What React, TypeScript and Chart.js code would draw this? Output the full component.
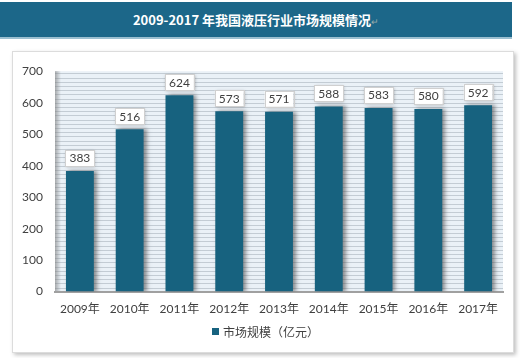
import React, { useEffect, useRef } from "react";
import { Chart, registerables } from "chart.js";

Chart.register(...registerables);

const categories = ["2009年", "2010年", "2011年", "2012年", "2013年", "2014年", "2015年", "2016年", "2017年"];
const values = [383, 516, 624, 573, 571, 588, 583, 580, 592];
const seriesName = "市场规模（亿元）";
const titleText = "2009-2017 年我国液压行业市场规模情况";

const FONT = "Lato, 'Noto Sans CJK SC', sans-serif";
const BAR_COLOR = "#17627f";

const bgPlugin = {
  id: "plotBg",
  beforeDraw(chart: any) {
    const { ctx, chartArea: a } = chart;
    ctx.save();
    ctx.fillStyle = "#eaf1f7";
    ctx.fillRect(a.left, a.top, a.right - a.left, a.bottom - a.top);
    ctx.strokeStyle = "#c3ccd4";
    ctx.lineWidth = 1;
    for (let y = a.bottom - 4; y > a.top; y -= 4.2) {
      ctx.beginPath();
      ctx.moveTo(a.left, Math.round(y) + 0.5);
      ctx.lineTo(a.right, Math.round(y) + 0.5);
      ctx.stroke();
    }
    const g = ctx.createLinearGradient(a.left, 0, a.left + 6, 0);
    g.addColorStop(0, "rgba(120,120,120,0.6)");
    g.addColorStop(1, "rgba(120,120,120,0)");
    ctx.fillStyle = g;
    ctx.fillRect(a.left, a.top, 6, a.bottom - a.top);
    ctx.restore();
  },
  beforeDatasetsDraw(chart: any) {
    const { ctx } = chart;
    ctx.save();
    ctx.shadowColor = "rgba(60,60,60,0.55)";
    ctx.shadowBlur = 4;
    ctx.shadowOffsetX = 3;
    ctx.shadowOffsetY = 0;
  },
  afterDatasetsDraw(chart: any) {
    const { ctx } = chart;
    ctx.restore();
    const meta = chart.getDatasetMeta(0);
    ctx.save();
    ctx.font = "12px " + FONT;
    ctx.textAlign = "center";
    ctx.textBaseline = "middle";
    meta.data.forEach((bar: any, i: number) => {
      const txt = String(chart.data.datasets[0].data[i]);
      const w = ctx.measureText(txt).width + 8;
      const h = 16;
      const x = bar.x - w / 2;
      const y = bar.y - 5 - h;
      ctx.shadowColor = "rgba(80,80,80,0.5)";
      ctx.shadowBlur = 3;
      ctx.shadowOffsetX = 1;
      ctx.shadowOffsetY = 1;
      ctx.fillStyle = "#ffffff";
      ctx.fillRect(x, y, w, h);
      ctx.shadowColor = "transparent";
      ctx.strokeStyle = "#d0d0d0";
      ctx.lineWidth = 1;
      ctx.strokeRect(Math.round(x) + 0.5, Math.round(y) + 0.5, Math.round(w), h);
      ctx.fillStyle = "#404040";
      ctx.fillText(txt, bar.x, y + h / 2 + 0.5);
    });
    ctx.restore();
  },
};

export default function App() {
  const ref = useRef<HTMLCanvasElement>(null);
  useEffect(() => {
    document.body.style.margin = "0";
    const chart = new Chart(ref.current!, {
      type: "bar",
      data: {
        labels: categories,
        datasets: [
          {
            label: seriesName,
            data: values,
            backgroundColor: BAR_COLOR,
            borderWidth: 0,
            barPercentage: 0.56,
            categoryPercentage: 1,
          },
        ],
      },
      options: {
        animation: false,
        responsive: false,
        layout: { padding: { top: 6, right: 10, bottom: 26, left: 0 } },
        scales: {
          x: {
            grid: { display: false, drawTicks: false },
            border: { display: true, color: "#a0a0a0", width: 2 },
            ticks: { color: "#404040", font: { size: 12, family: FONT }, padding: 10 },
          },
          y: {
            min: 0,
            max: 700,
            grid: { display: false, drawTicks: false },
            border: { display: false },
            ticks: { stepSize: 100, color: "#404040", font: { size: 12, family: FONT }, padding: 12 },
            afterFit(scale: any) {
              scale.width = 42;
            },
          },
        },
        plugins: {
          legend: { display: false },
          tooltip: { enabled: false },
        },
      },
      plugins: [bgPlugin],
    });
    return () => chart.destroy();
  }, []);

  return (
    <div style={{ position: "relative", width: 520, height: 358, background: "#fff", overflow: "hidden" }}>
      <div
        style={{
          position: "absolute",
          left: 0,
          top: 2,
          width: 512,
          height: 35,
          background: "#1c6789",
          borderBottom: "2px solid #9bbfd0",
          color: "#fff",
          fontFamily: "'Noto Sans CJK SC', sans-serif",
          fontWeight: 700,
          fontSize: 13,
          lineHeight: "35px",
          textAlign: "center",
        }}
      >
        {titleText}
        <span style={{ color: "#9aa", fontWeight: 400, fontSize: 9 }}>↵</span>
      </div>
      <div
        style={{
          position: "absolute",
          left: 12,
          top: 51,
          width: 500,
          height: 300,
          border: "1px solid #dcdcdc",
          boxShadow: "2px 2px 4px rgba(0,0,0,0.25)",
          background: "#fff",
        }}
      >
        <canvas ref={ref} width={500} height={300} style={{ display: "block" }} />
        <div
          style={{
            position: "absolute",
            left: 199,
            top: 270,
            height: 18,
            display: "flex",
            alignItems: "center",
            fontFamily: FONT,
            fontSize: 12,
            color: "#404040",
            whiteSpace: "nowrap",
          }}
        >
          <span style={{ display: "inline-block", width: 7, height: 7, background: BAR_COLOR, marginRight: 4 }} />
          {seriesName}
        </div>
      </div>
    </div>
  );
}
